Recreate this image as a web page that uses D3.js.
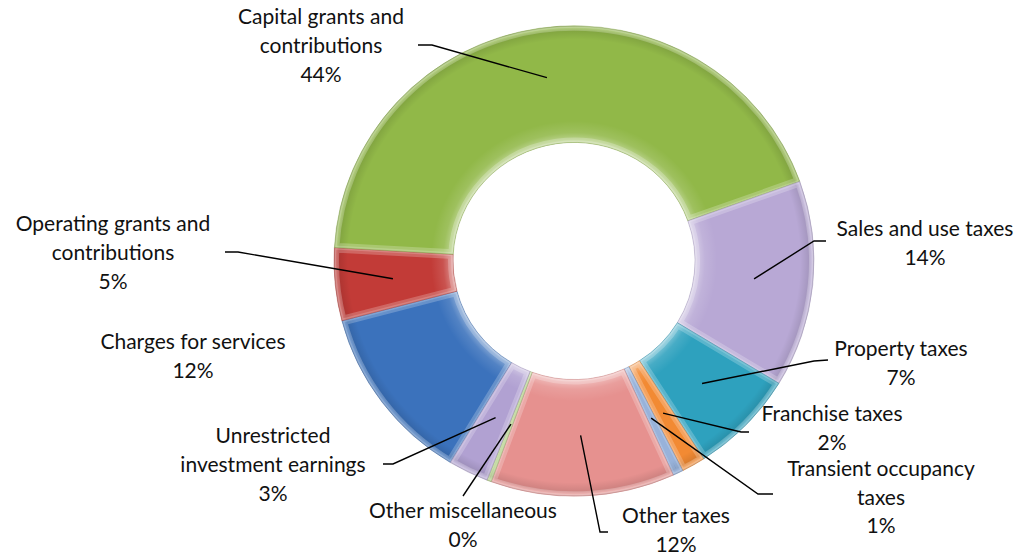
<!DOCTYPE html>
<html>
<head>
<meta charset="utf-8">
<script src="https://cdn.jsdelivr.net/npm/d3@7"></script>
<style>
  html, body { margin: 0; padding: 0; background: #fff; }
  svg { display: block; }
  text { font-family: Lato, "Open Sans", sans-serif; font-size: 21px; fill: #111; }
</style>
</head>
<body>
<svg id="Chart" width="1024" height="556"></svg>
<script>
// data, in drawing order (clockwise)
var categories = [
  "Charges for services",
  "Operating grants and contributions",
  "Capital grants and contributions",
  "Sales and use taxes",
  "Property taxes",
  "Franchise taxes",
  "Transient occupancy taxes",
  "Other taxes",
  "Other miscellaneous",
  "Unrestricted investment earnings"
];
var shares = [12.3, 5.0, 43.6, 14.2, 7.2, 1.6, 0.7, 12.4, 0.3, 2.7];
var percentLabels = ["12%", "5%", "44%", "14%", "7%", "2%", "1%", "12%", "0%", "3%"];
var colors = ["#3b72bc", "#c23b37", "#91b848", "#b8a8d5", "#2ea1be", "#f28a33",
              "#7b9dd0", "#e6918f", "#a9c97a", "#b1a1d2"];

// label layout: text lines, centre x, first baseline, leader start and bend, leader radius
var labelLayout = [
  { lines: ["Charges for services"], x: 193, y: 349 },
  { lines: ["Operating grants and", "contributions"], x: 113, y: 231, from: [225, 252], bend: [238, 252], r: 182 },
  { lines: ["Capital grants and", "contributions"], x: 321, y: 24, from: [418, 45], bend: [432, 45], r: 189 },
  { lines: ["Sales and use taxes"], x: 925, y: 236, from: [826, 241], bend: [814, 241], r: 181 },
  { lines: ["Property taxes"], x: 901, y: 356, from: [828, 360], bend: [814, 361], r: 179 },
  { lines: ["Franchise taxes"], x: 832, y: 421, from: [749, 432], bend: [741, 432], r: 179 },
  { lines: ["Transient occupancy", "taxes"], x: 881, y: 476, lh: 28.5, from: [773, 494], bend: [758, 494], r: 178 },
  { lines: ["Other taxes"], x: 676, y: 523, from: [608, 532], bend: [600, 532], r: 178 },
  { lines: ["Other miscellaneous"], x: 463, y: 518, from: [463, 496], bend: [463, 496], r: 178 },
  { lines: ["Unrestricted", "investment earnings"], x: 273, y: 443, from: [383, 464], bend: [393, 464], r: 178 }
];

var svg = d3.select("#Chart");
var cx = 574, cy = 261, squash = 0.98;
var outerR = 240, innerR = 121;
var startDeg = 211;

var g = svg.append("g")
  .attr("transform", "translate(" + cx + "," + cy + ") scale(1," + squash + ")");

var pie = d3.pie().sort(null).value(function(d) { return d; })
  .startAngle(startDeg * Math.PI / 180)
  .endAngle(startDeg * Math.PI / 180 + 2 * Math.PI);
var arcs = pie(shares);

var arc = d3.arc().innerRadius(innerR).outerRadius(outerR);

// soft radial shading for the bevel look
var defs = svg.append("defs");
var rg = defs.append("radialGradient")
  .attr("id", "ringShade")
  .attr("gradientUnits", "userSpaceOnUse")
  .attr("cx", 0).attr("cy", 0).attr("r", outerR);
var stops = [
  [innerR / outerR, "#ffffff", 0.45],
  [(innerR + 10) / outerR, "#ffffff", 0.12],
  [(innerR + 22) / outerR, "#ffffff", 0],
  [(outerR - 14) / outerR, "#000000", 0],
  [(outerR - 5) / outerR, "#000000", 0.10],
  [(outerR - 2) / outerR, "#ffffff", 0.10],
  [1, "#000000", 0.25]
];
stops.forEach(function(s) {
  rg.append("stop").attr("offset", s[0]).attr("stop-color", s[1]).attr("stop-opacity", s[2]);
});

arcs.forEach(function(a, i) {
  defs.append("clipPath").attr("id", "clip" + i)
    .append("path").attr("d", arc(a));
});

var slices = g.selectAll("g.slice").data(arcs).enter().append("g").attr("class", "slice");

slices.append("path")
  .attr("d", arc)
  .style("fill", function(d, i) { return colors[i]; });

slices.append("path")
  .attr("d", arc)
  .attr("clip-path", function(d, i) { return "url(#clip" + i + ")"; })
  .style("fill", "url(#ringShade)");

// inner bevel along the slice edges
slices.append("path")
  .attr("d", arc)
  .attr("clip-path", function(d, i) { return "url(#clip" + i + ")"; })
  .style("fill", "none")
  .style("stroke", "#ffffff")
  .style("stroke-opacity", 0.22)
  .style("stroke-width", 10);

slices.append("path")
  .attr("d", arc)
  .attr("clip-path", function(d, i) { return "url(#clip" + i + ")"; })
  .style("fill", "none")
  .style("stroke", "#ffffff")
  .style("stroke-opacity", 0.18)
  .style("stroke-width", 4);

slices.append("path")
  .attr("d", arc)
  .style("fill", "none")
  .style("stroke", function(d, i) { return d3.color(colors[i]).darker(0.6); })
  .style("stroke-opacity", 0.5)
  .style("stroke-width", 0.8);

// leader lines
var lineHeight = 29;
labelLayout.forEach(function(L, i) {
  if (!L.from) return;
  var a = arcs[i];
  var mid = (a.startAngle + a.endAngle) / 2;
  var ex = cx + L.r * Math.sin(mid);
  var ey = cy - L.r * Math.cos(mid) * squash;
  svg.append("path")
    .attr("d", d3.line()([L.from, L.bend, [ex, ey]]))
    .style("fill", "none")
    .style("stroke", "#000")
    .style("stroke-width", 1.4);
});

// labels
labelLayout.forEach(function(L, i) {
  var t = svg.append("text").attr("text-anchor", "middle");
  var lh = L.lh || lineHeight;
  L.lines.concat([percentLabels[i]]).forEach(function(s, k) {
    t.append("tspan").attr("x", L.x).attr("y", L.y + k * lh).text(s);
  });
});
</script>
</body>
</html>
